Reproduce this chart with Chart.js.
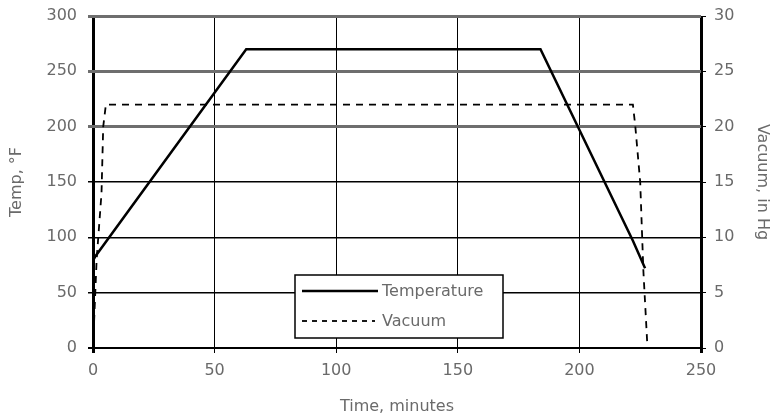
<!DOCTYPE html>
<html>
<head>
<meta charset="utf-8">
<script src="https://cdn.jsdelivr.net/npm/chart.js@4"></script>
<style>
  html, body { margin: 0; padding: 0; background: #fff; }
  #wrap { width: 770px; height: 415px; }
</style>
</head>
<body>
<div id="wrap"><canvas id="cureChart" width="770" height="415"></canvas></div>
<script>
// values
const tempTime = [0, 1, 63, 184, 222, 227];
const tempF = [79, 83, 270, 270, 97, 72];
const vacTime = [0, 1.5, 3.5, 4.2, 5.3, 222, 223, 225, 226.3, 228];
const vacInHg = [0, 8, 14, 20, 22, 22, 20, 15, 7, 0];
const timeTicks = [0, 50, 100, 150, 200, 250];
const tempTicks = [0, 50, 100, 150, 200, 250, 300];
const vacTicks = [0, 5, 10, 15, 20, 25, 30];

const textGray = '#6a6a6a';
const font = { family: '"DejaVu Sans", Verdana, sans-serif', size: 16 };
const titleFont = { family: '"DejaVu Sans", Verdana, sans-serif', size: 16, lineHeight: 1 };

// legend box drawn inside the plot, like the original
const legendBox = {
    id: 'legendBox',
    afterDraw(chart) {
        const ctx = chart.ctx;
        const x = 295, y = 275, w = 208, h = 63;
        ctx.save();
        ctx.fillStyle = '#fff';
        ctx.fillRect(x, y, w, h);
        ctx.strokeStyle = '#000';
        ctx.lineWidth = 1.5;
        ctx.strokeRect(x, y, w, h);
        chart.data.datasets.forEach((ds, i) => {
            const ly = y + 16 + i * 30;
            ctx.beginPath();
            ctx.strokeStyle = '#000';
            ctx.lineWidth = i === 0 ? 2.5 : 1.8;
            ctx.setLineDash(i === 0 ? [] : [5, 5]);
            ctx.moveTo(x + 7, ly);
            ctx.lineTo(x + (i === 0 ? 83 : 80), ly);
            ctx.stroke();
            ctx.setLineDash([]);
            ctx.fillStyle = textGray;
            ctx.font = '16px "DejaVu Sans", Verdana, sans-serif';
            ctx.textBaseline = 'middle';
            ctx.fillText(ds.label, x + 87, ly + 1);
        });
        ctx.restore();
    }
};

// fixed axis sizes so the plot sits where the original's does
const fitY = w => s => { s.width = w; s.paddingTop = 0; s.paddingBottom = 0; };

const ctx = document.getElementById('cureChart').getContext('2d');
new Chart(ctx, {
    type: 'line',
    data: {
        datasets: [
            {
                label: 'Temperature',
                data: tempTime.map((t, i) => ({ x: t, y: tempF[i] })),
                borderColor: '#000',
                borderWidth: 2.5,
                pointRadius: 0,
                yAxisID: 'y'
            },
            {
                label: 'Vacuum',
                data: vacTime.map((t, i) => ({ x: t, y: vacInHg[i] })),
                borderColor: '#000',
                borderWidth: 1.8,
                borderDash: [7, 6],
                pointRadius: 0,
                yAxisID: 'y2'
            }
        ]
    },
    options: {
        responsive: false,
        animation: false,
        layout: { padding: { top: 16 } },
        plugins: { legend: { display: false }, tooltip: { enabled: false } },
        scales: {
            x: {
                type: 'linear',
                min: 0, max: 250,
                afterBuildTicks: s => { s.ticks = timeTicks.map(v => ({ value: v })); },
                afterFit: s => { s.height = 67; },
                grid: {
                    color: '#000',
                    lineWidth: c => (c.tick && (c.tick.value === 0 || c.tick.value === 250)) ? 3 : 1,
                    tickLength: 5
                },
                border: { display: false },
                ticks: { color: textGray, font: font, padding: 8, maxRotation: 0 },
                title: { display: true, text: 'Time, minutes', color: textGray, font: titleFont, padding: { top: 0, bottom: 0 } }
            },
            y: {
                position: 'left',
                min: 0, max: 300,
                afterBuildTicks: s => { s.ticks = tempTicks.map(v => ({ value: v })); },
                afterFit: fitY(93),
                grid: {
                    color: c => (c.tick && c.tick.value >= 200) ? '#6e6e6e' : '#000',
                    lineWidth: c => (c.tick && c.tick.value >= 200) ? 3 : (c.tick && c.tick.value === 0 ? 2 : 1.5),
                    tickLength: 5
                },
                border: { display: false },
                ticks: { color: textGray, font: font, padding: 11 },
                title: { display: true, text: 'Temp, °F', color: textGray, font: titleFont, padding: { top: 9, bottom: 0 } }
            },
            y2: {
                position: 'right',
                min: 0, max: 30,
                afterBuildTicks: s => { s.ticks = vacTicks.map(v => ({ value: v })); },
                afterFit: fitY(69),
                grid: { drawOnChartArea: false, color: '#000', tickLength: 5 },
                border: { display: false },
                ticks: { color: textGray, font: font, padding: 8 },
                title: { display: true, text: 'Vacuum, in Hg', color: textGray, font: titleFont, padding: { top: 0, bottom: 0 } }
            }
        }
    },
    plugins: [legendBox]
});
</script>
</body>
</html>
